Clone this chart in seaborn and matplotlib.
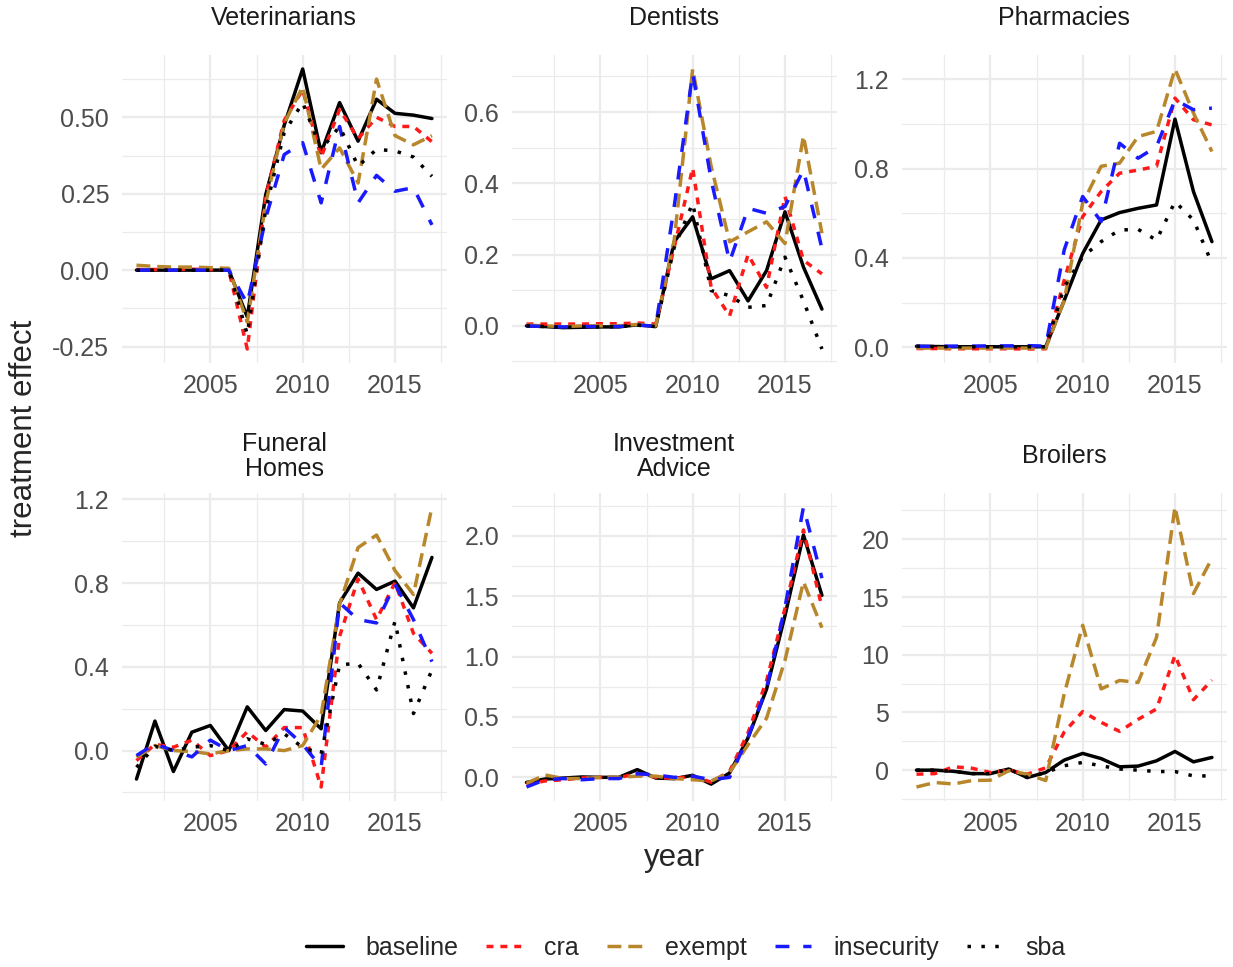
import matplotlib
matplotlib.use("Agg")
import matplotlib.pyplot as plt
from matplotlib.ticker import MultipleLocator, FormatStrFormatter, FixedLocator
import pandas as pd
import seaborn as sns

# ---------------------------------------------------------------- data
YEARS = list(range(2001, 2018))
SPECS = ["baseline", "cra", "exempt", "insecurity", "sba"]
INDUSTRIES = ["Veterinarians", "Dentists", "Pharmacies",
              "Funeral\nHomes", "Investment\nAdvice", "Broilers"]

VET_BASELINE = [0, 0, 0, 0, 0, 0, -0.153, 0.247, 0.474, 0.658, 0.384, 0.548, 0.422, 0.559, 0.513, 0.507, 0.496]
VET_CRA = [0.002, 0.002, 0.002, 0.003, 0.002, 0.0, -0.258, 0.24, 0.49, 0.59, 0.37, 0.526, 0.43, 0.50, 0.47, 0.47, 0.42]
VET_EXEMPT = [0.016, 0.012, 0.01, 0.01, 0.008, 0.006, -0.17, 0.22, 0.48, 0.60, 0.33, 0.40, 0.285, 0.625, 0.44, 0.41, 0.44]
VET_INSECURITY = [0, 0, 0, 0, 0, 0, -0.11, 0.17, 0.378, 0.417, 0.22, 0.47, 0.22, 0.31, 0.258, 0.27, 0.148]
VET_SBA = [0, 0, 0, 0, 0, 0, -0.21, 0.2, 0.45, 0.548, 0.395, 0.47, 0.34, 0.395, 0.39, 0.37, 0.307]

DEN_BASELINE = [0.0, -0.002, -0.005, -0.004, -0.003, -0.003, 0.003, -0.002, 0.236, 0.306, 0.132, 0.155, 0.07, 0.155, 0.32, 0.165, 0.047]
DEN_CRA = [0.005, 0.005, 0.005, 0.005, 0.006, 0.006, 0.008, 0.005, 0.22, 0.443, 0.108, 0.028, 0.2, 0.108, 0.363, 0.184, 0.146]
DEN_EXEMPT = [0.002, 0.0, -0.002, 0.0, 0.0, 0.0, 0.004, 0.0, 0.24, 0.721, 0.448, 0.236, 0.264, 0.292, 0.231, 0.533, 0.26]
DEN_INSECURITY = [0.0, -0.002, -0.003, -0.002, -0.002, -0.002, 0.002, -0.001, 0.335, 0.71, 0.41, 0.18, 0.33, 0.316, 0.335, 0.438, 0.217]
DEN_SBA = [0.0, -0.002, -0.004, -0.003, -0.003, -0.002, 0.002, -0.002, 0.22, 0.344, 0.099, 0.085, 0.052, 0.057, 0.193, 0.07, -0.065]

PHA_BASELINE = [0.005, 0.004, 0.003, 0.003, 0.003, 0.003, 0.003, 0.003, 0.21, 0.42, 0.57, 0.603, 0.622, 0.637, 1.021, 0.697, 0.473]
PHA_CRA = [-0.005, -0.005, -0.006, -0.006, -0.006, -0.006, -0.007, -0.006, 0.3, 0.585, 0.697, 0.779, 0.793, 0.81, 1.115, 1.018, 0.995]
PHA_EXEMPT = [-0.003, -0.003, -0.003, -0.003, -0.003, -0.003, -0.003, -0.003, 0.21, 0.645, 0.81, 0.824, 0.943, 0.966, 1.245, 1.048, 0.876]
PHA_INSECURITY = [0.005, 0.005, 0.006, 0.006, 0.007, 0.007, 0.008, 0.006, 0.436, 0.675, 0.563, 0.913, 0.846, 0.898, 1.107, 1.063, 1.07]
PHA_SBA = [0.005, 0.004, 0.003, 0.003, 0.003, 0.003, 0.003, 0.003, 0.27, 0.406, 0.473, 0.525, 0.528, 0.48, 0.652, 0.57, 0.376]

FUN_BASELINE = [-0.136, 0.141, -0.1, 0.088, 0.12, 0.0, 0.209, 0.096, 0.196, 0.189, 0.104, 0.706, 0.848, 0.77, 0.81, 0.682, 0.923]
FUN_CRA = [-0.048, 0.03, 0.016, 0.05, -0.024, 0.0, 0.09, 0.016, 0.11, 0.11, -0.174, 0.546, 0.82, 0.626, 0.803, 0.56, 0.465]
FUN_EXEMPT = [-0.032, 0.024, 0.0, -0.004, -0.016, 0.0, 0.008, 0.008, 0.0, 0.024, 0.17, 0.70, 0.97, 1.03, 0.86, 0.746, 1.164]
FUN_INSECURITY = [-0.024, 0.032, 0.0, -0.03, 0.05, 0.0, 0.024, -0.064, 0.11, 0.03, -0.08, 0.706, 0.626, 0.61, 0.795, 0.626, 0.425]
FUN_SBA = [-0.08, 0.02, 0.0, 0.016, 0.024, 0.0, 0.056, 0.03, 0.08, 0.016, -0.016, 0.41, 0.417, 0.29, 0.618, 0.177, 0.385]

INV_BASELINE = [-0.042, -0.014, -0.006, 0.003, 0.0, 0.0, 0.064, -0.006, -0.011, 0.017, -0.056, 0.036, 0.328, 0.73, 1.34, 2.008, 1.508]
INV_CRA = [-0.06, -0.03, -0.02, -0.005, 0.0, -0.002, 0.03, 0.0, -0.01, 0.01, -0.04, 0.05, 0.37, 0.8, 1.4, 2.05, 1.41]
INV_EXEMPT = [-0.05, 0.02, -0.01, -0.01, 0.0, 0.0, 0.01, 0.01, -0.01, -0.02, -0.03, 0.04, 0.27, 0.49, 0.97, 1.62, 1.24]
INV_INSECURITY = [-0.08, -0.02, -0.01, -0.02, -0.01, -0.01, 0.03, 0.02, 0.0, 0.01, -0.02, 0.0, 0.33, 0.74, 1.41, 2.24, 1.65]

BRO_BASELINE = [0.0, 0.0, -0.1, -0.3, -0.3, 0.1, -0.64, -0.2, 0.87, 1.45, 1.0, 0.29, 0.35, 0.81, 1.62, 0.72, 1.1]
BRO_CRA = [-0.35, -0.3, 0.29, 0.17, -0.2, 0.0, -0.35, 0.2, 3.3, 5.07, 4.14, 3.36, 4.4, 5.3, 9.94, 6.1, 7.8]
BRO_EXEMPT = [-1.46, -1.07, -1.2, -0.9, -0.87, -0.05, -0.35, -0.9, 6.6, 12.55, 7.04, 7.77, 7.6, 11.5, 22.8, 15.3, 18.35]
BRO_SBA = [0.0, 0.0, -0.1, -0.3, -0.3, 0.1, -0.64, -0.2, 0.38, 0.67, 0.38, 0.1, 0.0, -0.12, -0.12, -0.5, -0.5]

SERIES = {
    "Veterinarians": {"baseline": VET_BASELINE, "cra": VET_CRA, "exempt": VET_EXEMPT,
                      "insecurity": VET_INSECURITY, "sba": VET_SBA},
    "Dentists": {"baseline": DEN_BASELINE, "cra": DEN_CRA, "exempt": DEN_EXEMPT,
                 "insecurity": DEN_INSECURITY, "sba": DEN_SBA},
    "Pharmacies": {"baseline": PHA_BASELINE, "cra": PHA_CRA, "exempt": PHA_EXEMPT,
                   "insecurity": PHA_INSECURITY, "sba": PHA_SBA},
    "Funeral\nHomes": {"baseline": FUN_BASELINE, "cra": FUN_CRA, "exempt": FUN_EXEMPT,
                       "insecurity": FUN_INSECURITY, "sba": FUN_SBA},
    "Investment\nAdvice": {"baseline": INV_BASELINE, "cra": INV_CRA, "exempt": INV_EXEMPT,
                           "insecurity": INV_INSECURITY},
    "Broilers": {"baseline": BRO_BASELINE, "cra": BRO_CRA, "exempt": BRO_EXEMPT,
                 "sba": BRO_SBA},
}

rows = []
for ind, specs in SERIES.items():
    for spec, vals in specs.items():
        for yr, v in zip(YEARS, vals):
            rows.append({"industry": ind, "spec": spec, "year": yr, "effect": v})
df = pd.DataFrame(rows)

# ---------------------------------------------------------------- style
PALETTE = {"baseline": "black", "cra": "#FF1A1A", "exempt": "#B8862B",
           "insecurity": "#1A1AFF", "sba": "black"}
DASHES = {"baseline": "", "cra": (2, 2), "exempt": (4, 2),
          "insecurity": (4, 4), "sba": (1, 3)}
Y_STEP = [0.25, 0.2, 0.4, 0.4, 0.5, 5]
Y_FMT = ["%.2f", "%.1f", "%.1f", "%.1f", "%.1f", "%d"]
LW = 2.5

sns.set_style("white")
plt.rcParams["font.family"] = ["Liberation Sans", "DejaVu Sans"]

W, H = 1233, 967
fig = plt.figure(figsize=(W / 100, H / 100), dpi=100)

LEFTS = [121.7, 511.7, 901.7]
TOPS = [55, 493]
PW, PH = 325, 308

axes = []
for i, ind in enumerate(INDUSTRIES):
    r, c = divmod(i, 3)
    ax = fig.add_axes([LEFTS[c] / W, 1 - (TOPS[r] + PH) / H, PW / W, PH / H])
    axes.append(ax)
    sub = df[df["industry"] == ind]
    sns.lineplot(data=sub, x="year", y="effect", hue="spec", style="spec",
                 hue_order=SPECS, style_order=SPECS, palette=PALETTE,
                 dashes=DASHES, linewidth=LW, errorbar=None, ax=ax,
                 legend=(i == 0))
    ax.margins(x=0.05, y=0.05)
    ax.set_xlabel("")
    ax.set_ylabel("")
    for s in ax.spines.values():
        s.set_visible(False)
    ax.xaxis.set_major_locator(FixedLocator([2005, 2010, 2015]))
    ax.xaxis.set_minor_locator(FixedLocator([2002.5, 2007.5, 2012.5, 2017.5]))
    ax.yaxis.set_major_locator(MultipleLocator(Y_STEP[i]))
    ax.yaxis.set_minor_locator(MultipleLocator(Y_STEP[i] / 2))
    ax.yaxis.set_major_formatter(FormatStrFormatter(Y_FMT[i]))
    ax.grid(which="major", color="#EBEBEB", linewidth=1.6)
    ax.grid(which="minor", color="#EBEBEB", linewidth=0.9)
    ax.set_axisbelow(True)
    ax.tick_params(which="both", length=0, labelsize=18, labelcolor="#4D4D4D")
    ax.tick_params(axis="x", pad=8)
    ax.tick_params(axis="y", pad=9)
    ax.annotate(ind, xy=(0.5, 1), xycoords="axes fraction", xytext=(0, 26.3),
                textcoords="offset points", ha="center", va="center",
                fontsize=18, color="#1A1A1A", linespacing=1.1)

handles, labels = axes[0].get_legend_handles_labels()
if axes[0].get_legend() is not None:
    axes[0].get_legend().remove()
pairs = [(h, l) for h, l in zip(handles, labels) if l in SPECS]
for h, _ in pairs:
    h.set_linewidth(LW)
fig.legend([h for h, _ in pairs], [l for _, l in pairs], loc="center",
           bbox_to_anchor=(686 / W, 1 - 948 / H), ncol=5, frameon=False,
           fontsize=18, handlelength=1.45, handletextpad=0.9, columnspacing=1.1)

fig.text(24 / W, 1 - 428 / H, "treatment effect", rotation=90,
         ha="center", va="center", fontsize=22.5)
fig.text(674.2 / W, 1 - 858 / H, "year", ha="center", va="center", fontsize=22.5)

fig.savefig("out.png", dpi=100)
